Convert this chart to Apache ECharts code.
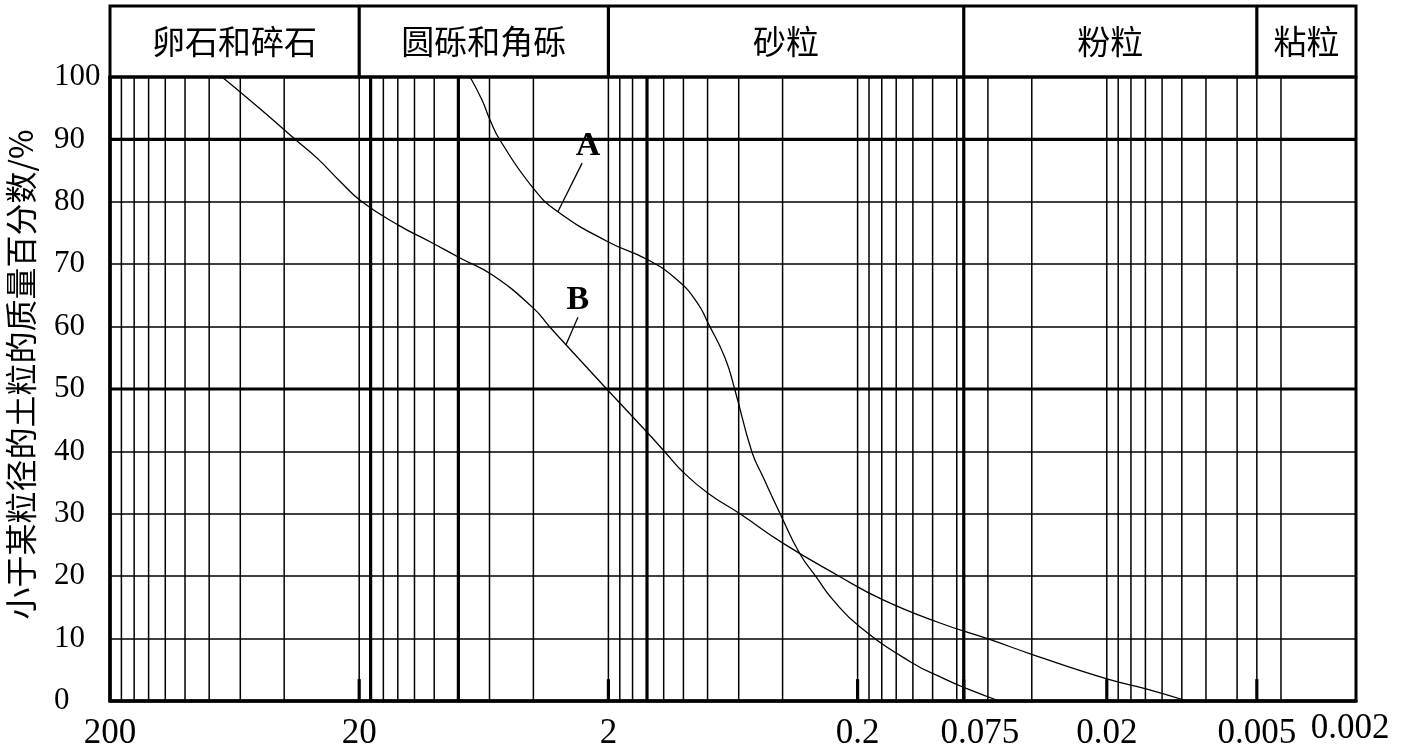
<!DOCTYPE html>
<html><head><meta charset="utf-8">
<script src="https://cdn.jsdelivr.net/npm/echarts@6/dist/echarts.min.js"></script>
<style>html,body{margin:0;padding:0;background:#fff}#c{width:1404px;height:749px}</style>
</head><body><div id="c"></div>
<script>
// ---------- data ----------
const curveA = [[7.18,100],[6.43,96.3],[5.97,93.1],[5.45,89.9],[4.01,82.2],[3.19,78.4],[2.01,73.6],[1.387,70.7],[1.061,67.5],[0.882,63.9],[0.797,60.6],[0.681,55.0],[0.621,49.8],[0.531,39.9],[0.479,35.9],[0.410,30.1],[0.341,23.6],[0.291,19.7],[0.251,16.2],[0.196,11.9],[0.123,6.3],[0.0892,3.5],[0.072,1.9],[0.054,0]];
const curveB = [[71.0,100],[50.0,94.9],[35.9,89.9],[29.5,87.0],[23.9,83.3],[19.5,80.0],[13.7,76.1],[10.4,73.6],[7.88,71.0],[5.86,68.3],[4.01,63.0],[3.43,59.9],[2.65,55.0],[2.01,49.8],[1.387,42.9],[1.186,39.9],[1.004,36.7],[0.797,33.3],[0.593,30.0],[0.399,25.3],[0.242,20.2],[0.158,16.2],[0.0934,12.5],[0.0594,9.9],[0.0395,7.4],[0.0198,3.5],[0.0138,1.9],[0.00953,0]];
const headerCats = ['卵石和碎石','圆砾和角砾','砂粒','粉粒','粘粒'];
const headerBounds = [200, 20, 2, 0.075, 0.005, 0.002];
const xTickValues = [200, 20, 2, 0.2, 0.075, 0.02, 0.005, 0.002];
const xTickLabels = ['200','20','2','0.2','0.075','0.02','0.005','0.002'];
const gridXValues = [180,160,140,120,100,80,60,40,20,
                     18,16,14,12,10,8,6,4,2,
                     1.8,1.6,1.4,1.2,1.0,0.8,0.6,0.4,0.2,
                     0.18,0.16,0.14,0.12,0.10,0.08,0.075,0.06,0.04,0.02,
                     0.018,0.016,0.014,0.012,0.010,0.008,0.006,0.005,0.004];
const thickXValues = [18, 8, 1.4, 0.075];
const majorTickValues = [20, 2, 0.2, 0.075, 0.02, 0.005];
const thickYValues = [50, 90];
const yTitle = '小于某粒径的土粒的质量百分数/%';
const annotA = {label:'A', text:[2.415,88.9], lead:[[2.55,86.2],[3.19,78.4]]};
const annotB = {label:'B', text:[2.65,64.3], lead:[[2.65,61.5],[2.96,57.1]]};

// ---------- chart ----------
const chart = echarts.init(document.getElementById('c'));
const BLACK = '#000';
const serif = 'Liberation Serif, Times New Roman, serif';
const cjk = 'Noto Sans CJK SC, sans-serif';

function vline(yFrom, yTo, widthFn){
  return function(params, api){
    const v = api.value(0);
    const p0 = api.coord([v, yFrom]);
    const p1 = api.coord([v, yTo]);
    return {type:'line', shape:{x1:p0[0],y1:p0[1],x2:p1[0],y2:p1[1]},
            style:{stroke:BLACK, lineWidth:widthFn(v)}};
  };
}

const option = {
  animation:false,
  backgroundColor:'#fff',
  grid:[
    {left:110,right:48,top:77,bottom:48,show:true,borderColor:BLACK,borderWidth:3,backgroundColor:'transparent',outerBoundsMode:'none',containLabel:false},
    {left:110,right:48,top:6,height:71,show:true,borderColor:BLACK,borderWidth:3,backgroundColor:'transparent',outerBoundsMode:'none',containLabel:false}
  ],
  graphic:[{type:'text',left:5,top:'middle',x:0,
    style:{text:yTitle,fontFamily:cjk,fontSize:32,fill:BLACK}, rotation:Math.PI/2, z:10}],
  xAxis:[
    {type:'log',logBase:10,min:0.002,max:200,inverse:true,gridIndex:0,
     axisLine:{show:true,lineStyle:{color:BLACK,width:3.5}},axisTick:{show:false},
     axisLabel:{show:false},splitLine:{show:false}},
    {type:'log',logBase:10,min:0.002,max:200,inverse:true,gridIndex:1,show:false}
  ],
  yAxis:[
    {type:'value',min:0,max:100,interval:10,gridIndex:0,
     axisLine:{show:true,lineStyle:{color:BLACK,width:3.5}},axisTick:{show:false},
     axisLabel:{align:'left',margin:56,fontFamily:serif,fontSize:31,color:BLACK},
     splitLine:{show:true,lineStyle:{color:BLACK,width:1.5}}},
    {type:'value',min:0,max:1,gridIndex:1,show:false}
  ],
  series:[
    {type:'custom',xAxisIndex:0,yAxisIndex:0,z:2,silent:true,
     data:gridXValues.map(v=>[v,0]),
     renderItem:vline(0,100,v=>thickXValues.indexOf(v)>=0?3.2:1.5)},
    {type:'custom',xAxisIndex:0,yAxisIndex:0,z:2,silent:true,
     data:majorTickValues.map(v=>[v,0]),
     renderItem:vline(0,3.5,v=>3.2)},
    {type:'custom',xAxisIndex:0,yAxisIndex:0,z:2,silent:true,
     data:thickYValues.map(v=>[200,v]),
     renderItem:function(params,api){
       const y = api.value(1);
       const p0 = api.coord([200,y]), p1 = api.coord([0.002,y]);
       return {type:'line',shape:{x1:p0[0],y1:p0[1],x2:p1[0],y2:p1[1]},style:{stroke:BLACK,lineWidth:3.2}};
     }},
    {type:'line',name:'A',xAxisIndex:0,yAxisIndex:0,z:5,data:curveA,smooth:0.5,showSymbol:false,
     lineStyle:{color:BLACK,width:1.3}},
    {type:'line',name:'B',xAxisIndex:0,yAxisIndex:0,z:5,data:curveB,smooth:0.5,showSymbol:false,
     lineStyle:{color:BLACK,width:1.3}},
    {type:'line',xAxisIndex:0,yAxisIndex:0,z:5,data:annotA.lead,showSymbol:false,lineStyle:{color:BLACK,width:1.3}},
    {type:'line',xAxisIndex:0,yAxisIndex:0,z:5,data:annotB.lead,showSymbol:false,lineStyle:{color:BLACK,width:1.3}},
    {type:'custom',xAxisIndex:0,yAxisIndex:0,z:6,silent:true,
     data:[annotA.text.concat([0]), annotB.text.concat([1])],
     renderItem:function(params,api){
       const p = api.coord([api.value(0),api.value(1)]);
       const t = [annotA.label, annotB.label][api.value(2)];
       return {type:'text',x:p[0],y:p[1],style:{text:t,fontFamily:serif,fontWeight:'bold',fontSize:34,fill:BLACK,align:'center',verticalAlign:'middle'}};
     }},
    {type:'custom',xAxisIndex:0,yAxisIndex:0,z:6,silent:true,clip:false,
     data:xTickValues.map((v,i)=>[v,0,i]),
     renderItem:function(params,api){
       const i = api.value(2);
       const p = api.coord([api.value(0),0]);
       let dx = 0, dy = 0;
       if (xTickLabels[i]==='0.075') dx = 16;
       if (xTickLabels[i]==='0.002') { dx = -6; dy = -5; }
       return {type:'text',x:p[0]+dx,y:p[1]+33+dy,style:{text:xTickLabels[i],fontFamily:serif,fontSize:35,fill:BLACK,align:'center',verticalAlign:'middle'}};
     }},
    {type:'custom',xAxisIndex:1,yAxisIndex:1,z:3,silent:true,
     data:headerBounds.slice(1,-1).map(v=>[v,0]),
     renderItem:vline(0,1,v=>3.2)},
    {type:'custom',xAxisIndex:1,yAxisIndex:1,z:6,silent:true,
     data:headerCats.map((c,i)=>[headerBounds[i],0.5,i]),
     renderItem:function(params,api){
       const i = api.value(2);
       const a = api.coord([headerBounds[i],0.5]), b = api.coord([headerBounds[i+1],0.5]);
       return {type:'text',x:(a[0]+b[0])/2,y:a[1],style:{text:headerCats[i],fontFamily:cjk,fontSize:33,fill:BLACK,align:'center',verticalAlign:'middle'}};
     }}
  ]
};
chart.setOption(option);
</script></body></html>
